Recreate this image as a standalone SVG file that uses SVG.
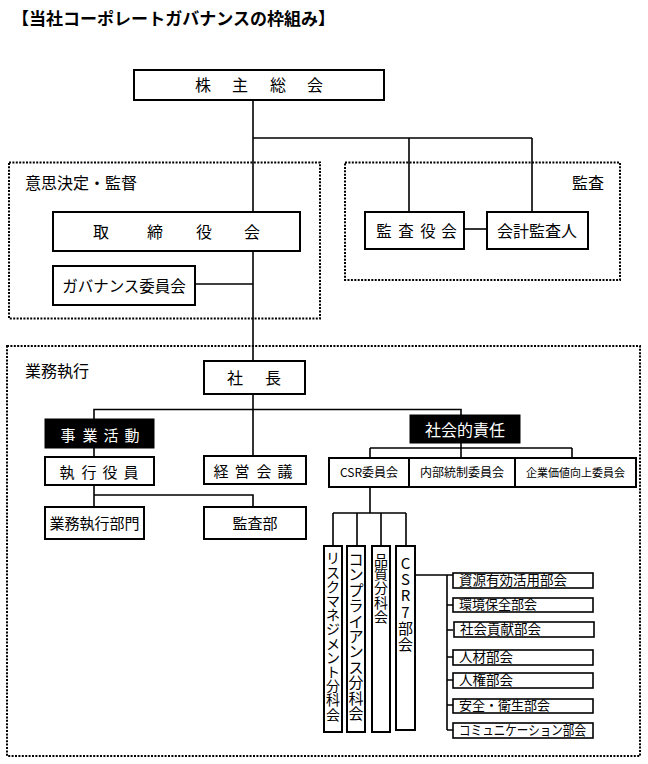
<svg xmlns="http://www.w3.org/2000/svg" width="648" height="764" viewBox="0 0 648 764">
<style>
text{font-family:"Noto Sans CJK JP","Noto Sans CJK SC",sans-serif;fill:#000}
.box{fill:#fff;stroke:#000;stroke-width:2}
.sbox{fill:#fff;stroke:#000;stroke-width:1.6}
.blk{fill:#000;stroke:#000;stroke-width:1}
.ln{fill:none;stroke:#000;stroke-width:1.6}
.dot{fill:none;stroke:#000;stroke-width:2;stroke-dasharray:2 1.4}
.w{fill:#fff}
.c{text-anchor:middle}
</style>
<rect width="648" height="764" fill="#fff"/>
<text x="12" y="24.5" font-size="17" font-weight="bold" textLength="323" lengthAdjust="spacingAndGlyphs">【当社コーポレートガバナンスの枠組み】</text>

<g id="frames">
<rect class="dot" x="9" y="162.5" width="311" height="156"/>
<rect class="dot" x="345" y="162.5" width="275" height="117.5"/>
<rect class="dot" x="7" y="346" width="633" height="410"/>
<text x="25" y="189" font-size="16">意思決定・監督</text>
<text x="572" y="189" font-size="16">監査</text>
<text x="25" y="377" font-size="16">業務執行</text>
</g>

<g id="connectors">
<path class="ln" d="M253 100 V361"/>
<path class="ln" d="M253 138 H532 M409 138 V212 M532 138 V212"/>
<path class="ln" d="M195 284 H253"/>
<path class="ln" d="M464 229 H487"/>
<path class="ln" d="M253 394 V456"/>
<path class="ln" d="M94 419 V409.5 H461 V415"/>
<path class="ln" d="M94 448 V457"/>
<path class="ln" d="M94 485 V507 M94 495 H253 V507"/>
<path class="ln" d="M461 443 V458 M370 448 H572 M370 448 V458 M572 448 V458"/>
<path class="ln" d="M370 487 V513 M333 513 H406 M333 513 V546 M357 513 V546 M381 513 V546 M406 513 V546"/>
<path class="ln" d="M415 575 H453 M447 575 V730 M447 605 H453 M447 630 H453 M447 657 H453 M447 680 H453 M447 705 H453 M447 730 H453"/>
</g>

<g id="n-shareholders">
<rect class="box" x="134" y="70" width="250" height="30"/>
<text class="c" x="203 240 278 315" y="91" font-size="16">株主総会</text>
</g>
<g id="n-board">
<rect class="box" x="53" y="212" width="247" height="39"/>
<text class="c" x="101 155 204 252" y="238" font-size="16">取締役会</text>
</g>
<g id="n-governance">
<rect class="box" x="53" y="266" width="142" height="39"/>
<text class="c" x="124" y="291.5" font-size="15.5">ガバナンス委員会</text>
</g>
<g id="n-auditors">
<rect class="box" x="365" y="212" width="99" height="37"/>
<text class="c" x="384 406 428 449" y="236.5" font-size="15.5">監査役会</text>
</g>
<g id="n-accounting">
<rect class="box" x="487" y="212" width="101" height="37"/>
<text class="c" x="537" y="236.5" font-size="16">会計監査人</text>
</g>
<g id="n-president">
<rect class="box" x="204" y="361" width="101" height="33"/>
<text class="c" x="235 273" y="384" font-size="16">社長</text>
</g>
<g id="n-business">
<rect class="blk" x="45" y="419" width="109" height="29"/>
<text class="c w" x="68 90 111 132" y="440.5" font-size="15">事業活動</text>
</g>
<g id="n-officers">
<rect class="box" x="45" y="457" width="109" height="28"/>
<text class="c" x="67 89 110 131" y="477.5" font-size="15">執行役員</text>
</g>
<g id="n-management">
<rect class="box" x="204" y="456" width="102" height="28"/>
<text class="c" x="221 242 264 285" y="476.5" font-size="15">経営会議</text>
</g>
<g id="n-operations">
<rect class="box" x="45" y="507" width="99" height="32"/>
<text class="c" x="94.5" y="528.5" font-size="15">業務執行部門</text>
</g>
<g id="n-audit-dept">
<rect class="box" x="204" y="507" width="102" height="32"/>
<text class="c" x="255" y="528.5" font-size="15">監査部</text>
</g>
<g id="n-social">
<rect class="blk" x="410" y="415" width="110" height="28"/>
<text class="c w" x="465" y="435.5" font-size="16">社会的責任</text>
</g>
<g id="n-csr">
<rect class="box" x="329" y="458" width="80" height="29"/>
<text class="c" x="369" y="477" font-size="12">CSR委員会</text>
</g>
<g id="n-internal">
<rect class="box" x="409" y="458" width="106" height="29"/>
<text class="c" x="462" y="477" font-size="12">内部統制委員会</text>
</g>
<g id="n-value">
<rect class="box" x="515" y="458" width="121" height="29"/>
<text class="c" x="575.5" y="477" font-size="11">企業価値向上委員会</text>
</g>
<g id="n-risk">
<rect class="box" x="324" y="546" width="18" height="186"/>
<text class="c" x="333 333 333 333 333 333 333 333 333 333 333 333" y="563.3 577.5 591.7 605.9 620.1 634.3 648.5 662.7 676.9 691.1 705.3 719.5" font-size="14">リスクマネジメント分科会</text>
</g>
<g id="n-compliance">
<rect class="box" x="347" y="546" width="18" height="186"/>
<text class="c" x="356 356 356 356 356 356 356 356 356 356 356" y="565 580.4 595.8 611.2 626.6 642 657.4 672.8 688.2 703.6 719" font-size="15">コンプライアンス分科会</text>
</g>
<g id="n-quality">
<rect class="box" x="372" y="546" width="18" height="186"/>
<text class="c" x="381 381 381 381 381" y="564.5 578.9 593.3 607.7 622.1" font-size="14">品質分科会</text>
</g>
<g id="n-csr7">
<rect class="box" x="396" y="546" width="19" height="184"/>
<text class="c" x="405.5 405.5 405.5 405.5 405.5 405.5" y="569 585.2 601.4 617.6 633.8 650" font-size="15">CSR7部会</text>
</g>
<g id="n-resources">
<rect class="sbox" x="453" y="573" width="140" height="15"/>
<text x="459" y="584.5" font-size="13.5">資源有効活用部会</text>
</g>
<g id="n-environment">
<rect class="sbox" x="453" y="598" width="140" height="14"/>
<text x="459" y="608.7" font-size="13">環境保全部会</text>
</g>
<g id="n-contribution">
<rect class="sbox" x="454" y="622" width="140" height="15"/>
<text x="460" y="633.5" font-size="13.5">社会貢献部会</text>
</g>
<g id="n-hr">
<rect class="sbox" x="453" y="650" width="140" height="15"/>
<text x="459" y="661.5" font-size="13.5">人材部会</text>
</g>
<g id="n-rights">
<rect class="sbox" x="453" y="673" width="140" height="15"/>
<text x="459" y="684.5" font-size="13.5">人権部会</text>
</g>
<g id="n-safety">
<rect class="sbox" x="453" y="699" width="140" height="14"/>
<text x="459" y="709.7" font-size="13">安全・衛生部会</text>
</g>
<g id="n-communication">
<rect class="sbox" x="453" y="723" width="140" height="15"/>
<text x="459" y="734.5" font-size="13.5" textLength="127" lengthAdjust="spacingAndGlyphs">コミュニケーション部会</text>
</g>
</svg>
